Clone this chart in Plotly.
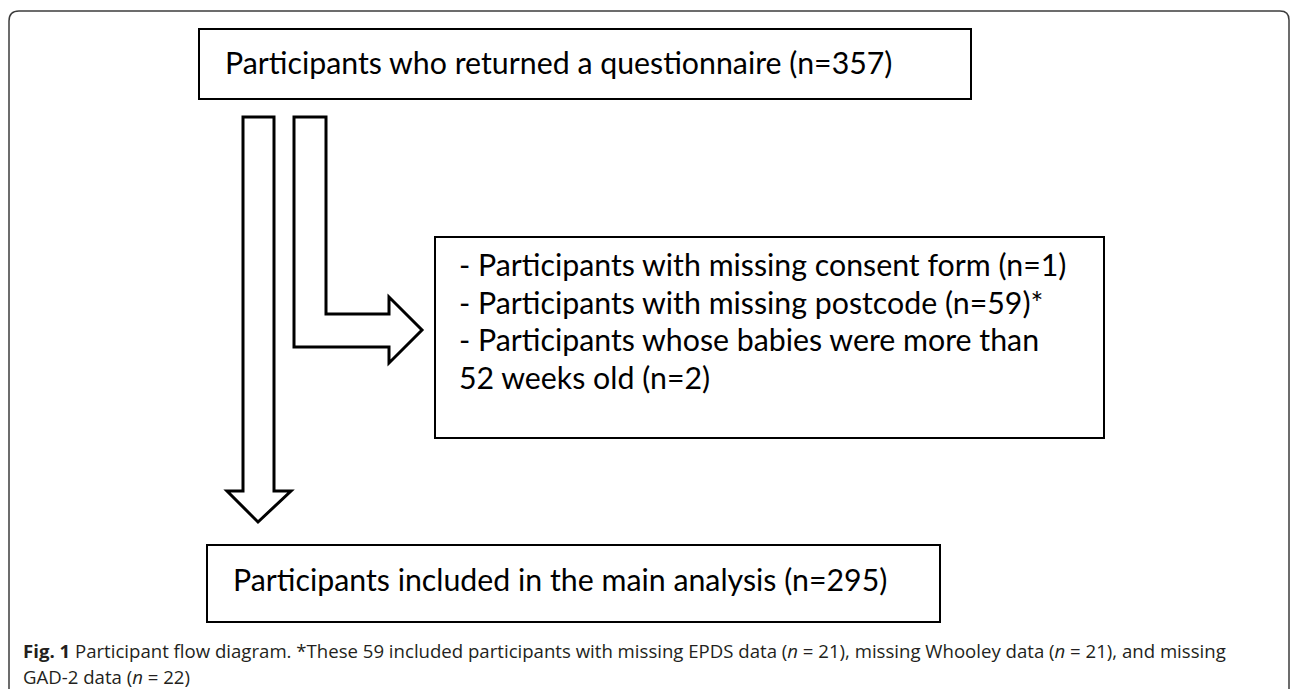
import plotly.graph_objects as go

# ---- data ----
stage_labels = ["Participants who returned a questionnaire",
                "Participants included in the main analysis"]
stage_n = [357, 295]
exclusion_labels = ["Participants with missing consent form",
                    "Participants with missing postcode",
                    "Participants whose babies were more than 52 weeks old"]
exclusion_n = [1, 59, 2]
exclusion_marks = ["", "*", ""]
missing_labels = ["EPDS", "Whooley", "GAD-2"]
missing_n = [21, 21, 22]

W, H = 1290, 689
BOX_FONT = "Lato"
BOX_SIZE = 30.3
CAP_FONT = "Open Sans"
CAP_SIZE = 18.6

fig = go.Figure()
fig.add_trace(go.Scatter(x=[0, W], y=[0, H], mode="markers",
                         marker=dict(opacity=0), hoverinfo="skip", showlegend=False))

shapes = []
# outer rounded frame
shapes.append(dict(type="path", xref="x", yref="y",
                   path="M 9,700 L 9,21 Q 9,11 19,11 L 1280,11 Q 1289,11 1289,20 L 1289,700",
                   line=dict(color="#3c3c3c", width=1.5)))
# boxes
for (x0, y0, x1, y1) in [(199, 29, 971, 99), (435, 237, 1104, 438), (207, 545, 940, 622)]:
    shapes.append(dict(type="rect", xref="x", yref="y", x0=x0, y0=y0, x1=x1, y1=y1,
                       line=dict(color="black", width=2), fillcolor="white"))
# down arrow
shapes.append(dict(type="path", xref="x", yref="y",
                   path="M 243,117 L 274,117 L 274,491 L 291,491 L 258,522 L 227,491 L 243,491 Z",
                   line=dict(color="black", width=3), fillcolor="white"))
# L arrow
shapes.append(dict(type="path", xref="x", yref="y",
                   path="M 294,117 L 326,117 L 326,314 L 389,314 L 389,297 L 422,330 L 389,363 L 389,347 L 294,347 Z",
                   line=dict(color="black", width=3), fillcolor="white"))

ann = []
def add_text(x, y, text, family, size, color="black"):
    ann.append(dict(x=x, y=y, xref="x", yref="y", text=text, showarrow=False,
                    xanchor="left", yanchor="middle",
                    font=dict(family=family, size=size, color=color)))

add_text(223, 62, f"{stage_labels[0]} (n={stage_n[0]})", BOX_FONT, BOX_SIZE)
add_text(231, 579, f"{stage_labels[1]} (n={stage_n[1]})", BOX_FONT, BOX_SIZE)

ex_lines = [f"- {exclusion_labels[0]} (n={exclusion_n[0]}){exclusion_marks[0]}",
            f"- {exclusion_labels[1]} (n={exclusion_n[1]}){exclusion_marks[1]}"]
words = exclusion_labels[2].split(" ")
ex_lines.append("- " + " ".join(words[:-3]))
ex_lines.append(" ".join(words[-3:]) + f" (n={exclusion_n[2]})")
for i, ln in enumerate(ex_lines):
    add_text(457, 264 + 37.5 * i, ln, BOX_FONT, BOX_SIZE)

cap1 = ("<b>Fig. 1</b> Participant flow diagram. *These "
        f"{exclusion_n[1]} included participants with missing {missing_labels[0]} data "
        f"(<i>n</i> = {missing_n[0]}), missing {missing_labels[1]} data "
        f"(<i>n</i> = {missing_n[1]}), and missing")
cap2 = f"{missing_labels[2]} data (<i>n</i> = {missing_n[2]})"
add_text(21, 650, cap1, CAP_FONT, CAP_SIZE, "#231f20")
add_text(21, 676, cap2, CAP_FONT, CAP_SIZE, "#231f20")

fig.update_layout(width=W, height=H, margin=dict(l=0, r=0, t=0, b=0),
                  paper_bgcolor="white", plot_bgcolor="white",
                  shapes=shapes, annotations=ann, showlegend=False,
                  xaxis=dict(range=[0, W], visible=False, fixedrange=True),
                  yaxis=dict(range=[H, 0], visible=False, fixedrange=True))

fig.write_html("out.html", config={"displayModeBar": False},
               post_script="document.body.style.margin='0';document.body.style.overflow='hidden';")
